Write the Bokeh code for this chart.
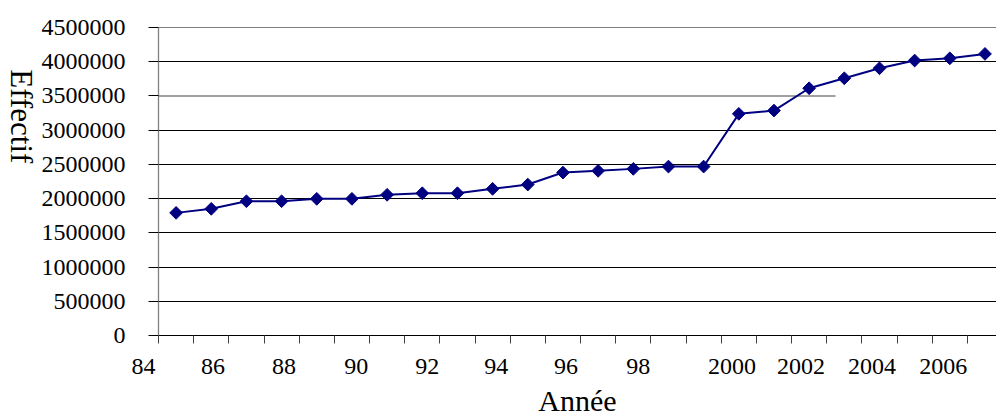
import math
from bokeh.plotting import figure
from bokeh.layouts import row
from bokeh.models import FixedTicker, Grid, Range1d, Title, NumeralTickFormatter
from bokeh.core.properties import value
from bokeh.embed import file_html
from bokeh.resources import INLINE

# ---- data ----
years = list(range(1985, 2009))
effectif = [1792000, 1851000, 1962000, 1962000, 1997000, 1997000, 2056000, 2079000,
            2079000, 2143000, 2206000, 2381000, 2406000, 2435000, 2469000, 2469000,
            3239000, 3287000, 3613000, 3759000, 3905000, 4018000, 4051000, 4115000]
tick_labels = ["84", "86", "88", "90", "92", "94", "96", "98", "2000", "2002", "2004", "2006"]
y_ticks = [0, 500000, 1000000, 1500000, 2000000, 2500000, 3000000, 3500000, 4000000, 4500000]
x_title = "Année"
y_title = "Effectif"

# ---- layout (label positions as drawn in the original) ----
tick_label_pos = [1984.5, 1986.05, 1988.07, 1990.12, 1992.14, 1994.10, 1996.09, 1998.14,
                  2000.81, 2002.77, 2004.79, 2006.81]
tick_label_text = [tick_labels[0] + "\u00a0" * 5] + tick_labels[1:]
category_edges = [years[0] - 0.5 + i for i in range(len(years) + 1)]

FONT = "Liberation Serif"
NAVY = "#000080"
W, H = 996, 416
SIDE_W = 38      # strip on the left holding the y title

x0 = years[0] - 0.5
x1 = x0 + 838 / 35.17
p = figure(width=W - SIDE_W, height=H, output_backend="svg", toolbar_location=None,
           x_range=Range1d(x0, x1), y_range=Range1d(0, 4501000),
           min_border_left=158 - SIDE_W, min_border_right=0, min_border_top=27,
           min_border_bottom=H - 335)
p.outline_line_color = None
p.xgrid.visible = False
p.ygrid.visible = False

# gridlines (the 3 500 000 one is shorter in the original)
grid = Grid(dimension=1, ticker=FixedTicker(ticks=[t for t in y_ticks if t != 3500000]),
            grid_line_color="black", grid_line_width=1)
p.add_layout(grid)
short_end = x0 + (835 - 158) / 35.17
p.segment(x0=[x0], y0=[3500000], x1=[short_end], y1=[3500000], line_color="#808080", line_width=1.3)

# y axis
ya = p.yaxis[0]
ya.ticker = FixedTicker(ticks=y_ticks)
ya.formatter = NumeralTickFormatter(format="0")
ya.axis_line_color = "#808080"
ya.axis_line_width = 1.3
ya.major_tick_line_color = "black"
ya.major_tick_out = 10
ya.major_tick_in = 0
ya.minor_tick_line_color = None
ya.major_label_standoff = 23
ya.major_label_text_font = FONT
ya.major_label_text_font_size = "24px"
ya.major_label_text_color = "black"

# x axis
xa = p.xaxis[0]
xa.ticker = FixedTicker(ticks=tick_label_pos, minor_ticks=category_edges)
xa.major_label_overrides = {pos: lab for pos, lab in zip(tick_label_pos, tick_label_text)}
xa.axis_line_color = "black"
xa.axis_line_width = 1
xa.major_tick_out = 0
xa.major_tick_in = 0
xa.major_tick_line_color = None
xa.minor_tick_out = 8
xa.minor_tick_in = 0
xa.minor_tick_line_color = "#404040"
xa.major_label_standoff = 9
xa.major_label_text_font = FONT
xa.major_label_text_font_size = "24px"
xa.major_label_text_color = "black"

# series
p.line(years, effectif, line_color=NAVY, line_width=2)
p.scatter(years, effectif, marker="square", angle=math.pi / 4, size=9,
          fill_color=NAVY, line_color=NAVY)

# x title
p.add_layout(Title(text=x_title, align="center", offset=520 - 577, standoff=0,
                   text_font=FONT, text_font_size="30px", text_font_style="normal",
                   text_color="black"), "below")

# y title in a narrow strip (reads top-to-bottom as in the original)
side = figure(width=SIDE_W, height=H, output_backend="svg", toolbar_location=None,
              x_range=Range1d(0, SIDE_W), y_range=Range1d(0, H),
              min_border=0, min_border_left=0, min_border_right=0,
              min_border_top=0, min_border_bottom=0)
side.axis.visible = False
side.grid.visible = False
side.outline_line_color = None
side.text(x=[20.5], y=[H - 120], text=[y_title], angle=-math.pi / 2,
          text_align="center", text_baseline="middle",
          text_font=value(FONT), text_font_size="31px", text_color="black")

layout = row(side, p, spacing=0)
open("out.html", "w").write(file_html(layout, INLINE))
